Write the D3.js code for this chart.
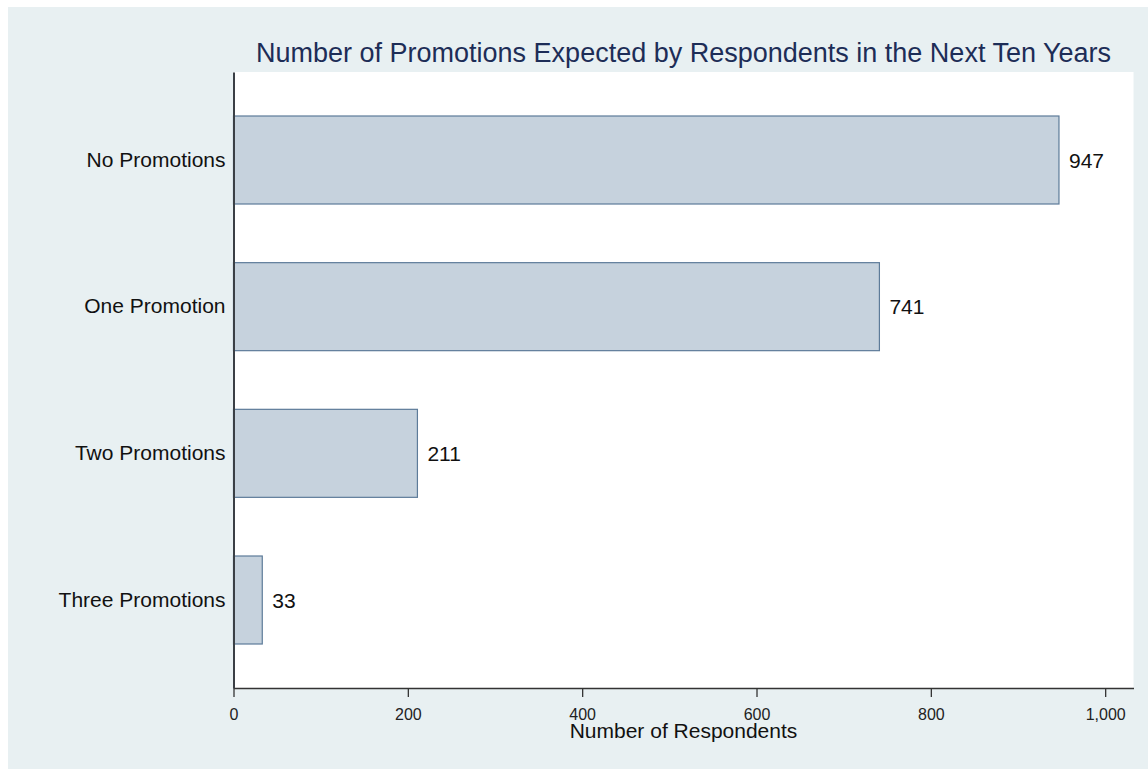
<!DOCTYPE html>
<html>
<head>
<meta charset="utf-8">
<script src="https://cdn.jsdelivr.net/npm/d3@7"></script>
<style>
  body { margin: 0; background: #fff; }
</style>
</head>
<body>
<div id="chart"></div>
<script>
const categories = ["No Promotions", "One Promotion", "Two Promotions", "Three Promotions"];
const respondents = [947, 741, 211, 33];
const xTicks = [0, 200, 400, 600, 800, 1000];

const width = 1148, height = 769;
const plot = { left: 233.5, right: 1133.5, top: 72, bottom: 688 };
const font = "'Liberation Sans', Arial, sans-serif";

const svg = d3.select("#chart").append("svg")
  .attr("width", width)
  .attr("height", height)
  .style("font-family", font);

// graph region + plot region
svg.append("rect").attr("x", 8).attr("y", 7)
  .attr("width", width - 8).attr("height", height - 7)
  .attr("fill", "#e8f0f2");
svg.append("rect").attr("x", plot.left).attr("y", plot.top)
  .attr("width", plot.right - plot.left).attr("height", plot.bottom - plot.top)
  .attr("fill", "#fff");

const x = d3.scaleLinear().domain([0, 1032.5]).range([plot.left, plot.right]);
const y = d3.scaleBand().domain(categories).range([plot.top, plot.bottom])
  .paddingInner(0.4).paddingOuter(0.3);

const data = categories.map((c, i) => ({ name: c, value: respondents[i] }));

svg.append("g").selectAll("rect")
  .data(data)
  .join("rect")
  .attr("x", x(0))
  .attr("y", d => y(d.name))
  .attr("width", d => x(d.value) - x(0))
  .attr("height", y.bandwidth())
  .attr("fill", "#c6d2dd")
  .attr("stroke", "#5d7b99")
  .attr("stroke-width", 1.2);

svg.append("g").selectAll("text")
  .data(data)
  .join("text")
  .attr("x", d => x(d.value) + 10)
  .attr("y", d => y(d.name) + y.bandwidth() / 2)
  .attr("dy", "0.36em")
  .attr("font-size", 21)
  .attr("fill", "#111")
  .text(d => d.value);

// x axis
const xAxis = svg.append("g")
  .attr("transform", `translate(0,${plot.bottom})`)
  .call(d3.axisBottom(x).tickValues(xTicks).tickSize(9).tickSizeOuter(0)
    .tickPadding(12).tickFormat(d3.format(",")));
xAxis.selectAll("text").attr("font-size", 16).attr("fill", "#222").attr("font-family", font);
xAxis.selectAll("line").attr("stroke", "#333").attr("stroke-width", 1.3);
xAxis.select(".domain").attr("stroke", "#333").attr("stroke-width", 1.3);

// y axis
const yAxis = svg.append("g")
  .attr("transform", `translate(${plot.left},0)`)
  .call(d3.axisLeft(y).tickSize(0).tickPadding(8));
yAxis.selectAll("text").attr("font-size", 21).attr("fill", "#111").attr("font-family", font);
yAxis.select(".domain").attr("stroke", "#3a3f45").attr("stroke-width", 2);

// titles
svg.append("text")
  .attr("x", (plot.left + plot.right) / 2)
  .attr("y", 61.5)
  .attr("text-anchor", "middle")
  .attr("font-size", 27)
  .attr("fill", "#1d2d57")
  .text("Number of Promotions Expected by Respondents in the Next Ten Years");

svg.append("text")
  .attr("x", (plot.left + plot.right) / 2)
  .attr("y", 738)
  .attr("text-anchor", "middle")
  .attr("font-size", 21)
  .attr("fill", "#111")
  .text("Number of Respondents");
</script>
</body>
</html>
